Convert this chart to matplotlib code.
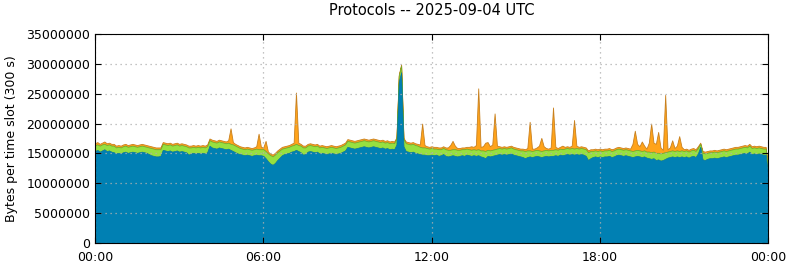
import numpy as np
import matplotlib
matplotlib.use("Agg")
import matplotlib.pyplot as plt
from matplotlib.ticker import FuncFormatter

# 5-minute slots, 00:00 .. 24:00 (values in millions of bytes per slot)
blue_m = [
    15.4, 15.6, 15.3, 15.5, 15.7, 15.4, 15.5, 15.3, 15.2, 15.0, 15.1, 15.0,  # 00
    15.2, 15.3, 15.1, 15.2, 15.3, 15.2, 15.1, 15.2, 15.3, 15.2, 15.1, 14.9,  # 01
    14.7, 14.6, 14.5, 14.5, 14.6, 15.6, 15.5, 15.4, 15.5, 15.3, 15.4, 15.5,  # 02
    15.3, 15.4, 15.3, 15.2, 14.8, 15.0, 15.1, 15.0, 15.1, 15.0, 15.1, 15.0,  # 03
    15.2, 16.3, 16.0, 15.9, 15.8, 16.0, 15.9, 15.8, 15.7, 15.8, 15.6, 15.4,  # 04
    15.2, 15.0, 14.9, 14.8, 14.7, 14.8, 14.7, 14.6, 14.7, 14.8, 14.7, 14.7,  # 05
    14.6, 14.2, 13.7, 13.3, 13.1, 13.4, 13.9, 14.3, 14.7, 14.9, 15.0, 15.1,  # 06
    15.3, 15.4, 15.6, 15.4, 15.2, 14.8, 14.9, 15.3, 15.4, 15.3, 15.2, 15.3,  # 07
    15.0, 15.1, 15.0, 14.9, 15.0, 15.1, 15.0, 14.9, 15.0, 15.1, 15.3, 15.5,  # 08
    16.1, 16.0, 15.9, 15.8, 15.9, 16.0, 16.1, 16.2, 16.1, 16.0, 16.1, 16.2,  # 09
    16.1, 16.0, 15.9, 16.0, 15.8, 15.9, 15.7, 15.8, 15.7, 16.5, 27.0, 28.6,  # 10
    16.2, 15.4, 15.3, 15.2, 15.3, 15.1, 15.0, 14.9, 14.8, 14.8, 14.7, 14.7,  # 11
    14.8, 14.7, 14.8, 14.6, 14.7, 14.9, 14.6, 14.5, 14.6, 14.7, 14.6, 14.5,  # 12
    14.6, 14.7, 14.6, 14.8, 14.7, 14.6, 14.7, 14.6, 14.7, 14.5, 14.4, 14.2,  # 13
    14.6, 14.5, 14.6, 14.7, 14.8, 14.9, 14.8, 14.9, 14.8, 14.9, 15.0, 14.8,  # 14
    14.7, 14.6, 14.5, 14.4, 14.2, 14.4, 14.5, 14.4, 14.5, 14.6, 14.5, 14.4,  # 15
    14.5, 14.6, 14.5, 14.6, 14.6, 14.7, 14.6, 14.8, 14.7, 14.8, 14.9, 14.8,  # 16
    14.9, 14.8, 14.9, 14.8, 14.9, 14.8, 14.6, 13.9, 14.2, 14.4, 14.5, 14.4,  # 17
    14.5, 14.4, 14.5, 14.5, 14.6, 14.4, 14.5, 14.7, 14.8, 14.7, 14.6, 14.7,  # 18
    14.6, 14.5, 14.4, 14.5, 14.6, 14.5, 14.4, 14.5, 14.3, 14.2, 14.1, 14.2,  # 19
    13.9, 14.0, 13.8, 13.9, 14.1, 14.3, 14.4, 14.5, 14.4, 14.5, 14.4, 14.5,  # 20
    14.4, 14.5, 14.3, 14.5, 14.6, 14.4, 15.0, 16.1, 14.0, 13.9, 14.1, 14.2,  # 21
    14.2, 14.3, 14.2, 14.3, 14.4, 14.5, 14.4, 14.5, 14.6, 14.7, 14.8, 14.8,  # 22
    14.9, 15.0, 15.1, 15.0, 15.3, 14.9, 15.0, 14.9, 15.0, 14.9, 14.8, 14.8,  # 23
    11.5,
]

green_m = [
    1.0, 0.9, 1.0, 1.0, 0.9, 1.0, 1.0, 1.0, 1.1, 1.0, 1.0, 1.0,  # 00
    1.0, 1.0, 1.0, 1.0, 1.0, 1.0, 1.0, 1.0, 1.0, 1.0, 1.0, 1.1,  # 01
    1.2, 1.2, 1.2, 1.2, 1.1, 1.0, 1.0, 1.0, 1.0, 1.0, 1.0, 1.0,  # 02
    1.0, 1.0, 1.0, 1.0, 1.2, 1.0, 1.0, 1.0, 1.0, 1.0, 1.0, 1.0,  # 03
    1.0, 0.9, 1.0, 1.0, 1.0, 1.0, 1.0, 1.0, 1.0, 1.0, 1.0, 1.1,  # 04
    1.1, 1.1, 1.0, 1.0, 1.0, 1.0, 1.0, 1.0, 1.0, 1.0, 1.0, 1.0,  # 05
    1.1, 1.2, 1.3, 1.4, 1.4, 1.4, 1.3, 1.2, 1.1, 1.0, 1.0, 1.0,  # 06
    1.0, 1.0, 1.0, 1.0, 1.1, 1.2, 1.1, 1.0, 1.0, 1.0, 1.0, 1.0,  # 07
    1.0, 1.0, 1.0, 1.0, 1.0, 1.0, 1.0, 1.0, 1.0, 1.0, 1.0, 1.0,  # 08
    1.0, 1.0, 1.0, 1.0, 1.0, 1.0, 1.0, 1.0, 1.0, 1.0, 1.0, 1.0,  # 09
    1.0, 1.0, 1.0, 1.0, 1.0, 1.0, 1.0, 1.0, 1.0, 1.0, 1.0, 1.1,  # 10
    1.2, 1.3, 1.3, 1.3, 1.3, 1.3, 1.3, 1.2, 1.2, 1.2, 1.2, 1.1,  # 11
    1.1, 1.1, 1.0, 1.1, 1.0, 1.0, 1.1, 1.1, 1.0, 1.0, 1.1, 1.1,  # 12
    1.0, 1.0, 1.1, 1.0, 1.0, 1.0, 1.0, 1.0, 1.0, 1.0, 1.1, 1.2,  # 13
    1.0, 1.0, 1.0, 1.0, 1.0, 1.0, 1.0, 1.0, 1.0, 1.0, 1.0, 1.0,  # 14
    1.0, 1.0, 1.0, 1.1, 1.2, 1.1, 1.0, 1.0, 1.0, 1.0, 1.0, 1.0,  # 15
    1.0, 1.0, 1.0, 1.0, 1.0, 1.0, 1.0, 1.0, 1.0, 1.0, 1.0, 1.0,  # 16
    1.0, 1.0, 1.0, 1.0, 1.0, 1.0, 1.1, 1.3, 1.2, 1.0, 1.0, 1.0,  # 17
    1.0, 1.0, 1.0, 1.0, 1.0, 1.0, 1.0, 1.0, 1.0, 1.0, 1.0, 1.0,  # 18
    1.0, 1.0, 1.0, 1.0, 1.0, 1.0, 1.0, 1.0, 1.0, 1.1, 1.1, 1.1,  # 19
    1.2, 1.1, 1.2, 1.2, 1.1, 1.0, 1.0, 1.0, 1.0, 1.0, 1.0, 1.0,  # 20
    1.0, 1.0, 1.0, 1.0, 1.0, 1.0, 0.9, 0.5, 1.1, 1.1, 1.0, 1.0,  # 21
    1.0, 1.0, 1.0, 1.0, 1.0, 1.0, 1.0, 1.0, 1.0, 1.0, 1.0, 1.0,  # 22
    1.0, 1.0, 1.0, 1.0, 1.0, 1.0, 1.0, 1.0, 1.0, 1.0, 1.0, 1.0,  # 23
    0.9,
]

orange_m = [
    0.3, 0.4, 0.3, 0.3, 0.4, 0.3, 0.3, 0.3, 0.3, 0.3, 0.3, 0.3,  # 00
    0.3, 0.3, 0.3, 0.3, 0.3, 0.3, 0.3, 0.3, 0.3, 0.3, 0.3, 0.3,  # 01
    0.3, 0.3, 0.3, 0.3, 0.3, 0.3, 0.3, 0.3, 0.3, 0.3, 0.3, 0.3,  # 02
    0.3, 0.3, 0.3, 0.3, 0.3, 0.3, 0.3, 0.3, 0.3, 0.3, 0.3, 0.3,  # 03
    0.3, 0.3, 0.3, 0.3, 0.3, 0.3, 0.3, 0.3, 0.3, 0.4, 2.6, 0.4,  # 04
    0.3, 0.3, 0.3, 0.3, 0.3, 0.3, 0.3, 0.3, 0.3, 0.4, 2.6, 0.4,  # 05
    0.3, 1.7, 0.3, 0.3, 0.3, 0.3, 0.3, 0.3, 0.3, 0.3, 0.3, 0.3,  # 06
    0.3, 0.4, 8.6, 0.4, 0.3, 0.3, 0.3, 0.3, 0.3, 0.3, 0.3, 0.3,  # 07
    0.3, 0.3, 0.3, 0.3, 0.3, 0.3, 0.3, 0.3, 0.3, 0.3, 0.3, 0.3,  # 08
    0.3, 0.3, 0.3, 0.3, 0.3, 0.3, 0.3, 0.3, 0.3, 0.3, 0.3, 0.3,  # 09
    0.3, 0.3, 0.3, 0.3, 0.3, 0.3, 0.3, 0.3, 0.3, 0.2, 0.2, 0.2,  # 10
    0.2, 0.3, 0.3, 0.3, 0.3, 0.3, 0.3, 0.4, 4.0, 0.4, 0.3, 0.3,  # 11
    0.3, 0.3, 0.3, 0.3, 0.3, 0.3, 0.3, 0.4, 0.8, 1.4, 0.6, 0.3,  # 12
    0.3, 0.3, 0.3, 0.3, 0.4, 0.6, 0.4, 0.8, 10.2, 0.6, 0.7, 1.4,  # 13
    1.3, 0.7, 0.9, 6.0, 0.5, 0.3, 0.3, 0.3, 0.3, 0.3, 0.3, 0.3,  # 14
    0.3, 0.3, 0.3, 0.3, 0.3, 0.4, 4.8, 0.4, 0.3, 0.4, 0.8, 2.2,  # 15
    0.7, 0.3, 0.3, 0.4, 7.1, 0.4, 0.3, 0.3, 0.6, 0.3, 0.3, 0.3,  # 16
    0.4, 4.8, 0.4, 0.3, 0.3, 0.3, 0.3, 0.3, 0.3, 0.3, 0.3, 0.3,  # 17
    0.3, 0.3, 0.3, 0.3, 0.3, 0.3, 0.3, 0.3, 0.3, 0.3, 0.3, 0.3,  # 18
    0.3, 0.3, 1.2, 3.3, 1.0, 0.7, 1.6, 0.8, 0.5, 1.5, 4.8, 1.5,  # 19
    1.5, 3.5, 1.0, 0.5, 9.6, 0.4, 0.6, 1.7, 0.5, 0.8, 2.5, 0.6,  # 20
    0.3, 0.3, 0.3, 0.3, 0.3, 0.3, 0.3, 0.2, 0.3, 0.3, 0.3, 0.3,  # 21
    0.3, 0.3, 0.3, 0.3, 0.3, 0.3, 0.3, 0.3, 0.3, 0.3, 0.3, 0.3,  # 22
    0.3, 0.3, 0.3, 0.3, 0.3, 0.3, 0.3, 0.3, 0.3, 0.3, 0.3, 0.3,  # 23
    0.3,
]

tick_hours = [0, 6, 12, 18, 24]
tick_labels = ["00:00", "06:00", "12:00", "18:00", "00:00"]

hours = np.arange(len(blue_m)) * 5 / 60.0
blue = np.array(blue_m) * 1e6
green = np.array(green_m) * 1e6
orange = np.array(orange_m) * 1e6

fig = plt.figure(figsize=(7.9, 2.67), dpi=100)
ax = fig.add_axes([95 / 790, 24 / 267, 673 / 790, 209 / 267])

y1 = blue
y2 = blue + green
y3 = y2 + orange
ax.fill_between(hours, y2, y3, facecolor="#ffa31a", edgecolor="#c8801e", linewidth=0.6)
ax.fill_between(hours, y1, y2, facecolor="#96e040", edgecolor="#6cae2c", linewidth=0.5)
ax.fill_between(hours, 0, y1, facecolor="#0080b3", edgecolor="#0073a2", linewidth=0.4)

ax.set_xlim(0, 24)
ax.set_ylim(0, 35000000)
ax.set_xticks(tick_hours)
ax.set_xticklabels(tick_labels)
ax.set_yticks(np.arange(0, 35000001, 5000000))
ax.yaxis.set_major_formatter(FuncFormatter(lambda v, p: "%d" % v))
ax.tick_params(direction="in", top=True, right=True, labelsize=9, length=4)
ax.tick_params(axis="x", pad=6)
ax.grid(True, linestyle=(0, (1, 3)), color="#b0b0b0", linewidth=0.9)
ax.set_ylabel("Bytes per time slot (300 s)", fontsize=9, labelpad=6)
ax.set_title("Protocols -- 2025-09-04 UTC", fontsize=10.5, pad=14)

plt.savefig("out.png", dpi=100)
plt.close()
